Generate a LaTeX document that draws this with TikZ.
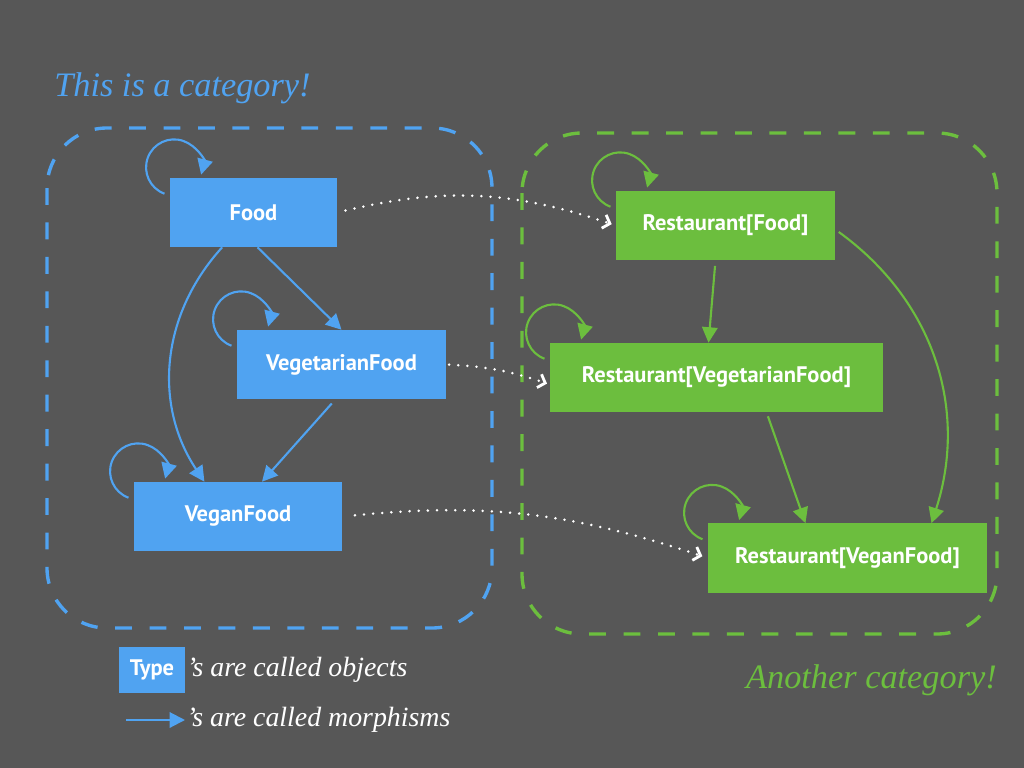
\documentclass[tikz,border=0pt]{standalone}
\usepackage{fontspec}
\setmainfont{Liberation Serif}
\newfontfamily\labelfont{PT Sans}
\usetikzlibrary{arrows.meta, positioning}
\definecolor{bgcolor}{RGB}{87,87,87}
\definecolor{typecolor}{RGB}{80,163,241}
\definecolor{restcolor}{RGB}{108,190,62}

\begin{document}
\begin{tikzpicture}[
    x=0.025cm, y=-0.025cm,
    typebox/.style={fill=typecolor, text=white, minimum height=1.725cm, inner sep=0pt, font=\labelfont\bfseries\fontsize{16}{18}\selectfont},
    restbox/.style={typebox, fill=restcolor},
    bluearrow/.style={-{Triangle[length=11pt,width=11pt]}, line width=1.5pt, color=typecolor},
    greenarrow/.style={bluearrow, color=restcolor},
    mapsto/.style={-{Straight Barb[length=4.5pt,width=10pt]}, white, line width=2pt, line cap=round, dash pattern=on 0pt off 6.5pt},
    catregion/.style={line width=2.4pt, dash pattern=on 12pt off 12.5pt, rounded corners=1.5cm},
    bigtitle/.style={font=\itshape\fontsize{24.4}{28}\selectfont, inner sep=0pt},
    legend/.style={font=\itshape\fontsize{19.8}{23}\selectfont, text=white, inner sep=1pt}
]
    % Background
    \fill[bgcolor] (0,0) rectangle (1024,768);
    \useasboundingbox (0,0) rectangle (1024,768);

    % Categories
    \draw[catregion, typecolor] (47,128) rectangle (492,628);
    \draw[catregion, restcolor] (522,133) rectangle (997,634);
    \node[bigtitle, text=typecolor, anchor=west] (catone) at (54,88) {This is a category!};
    \node[bigtitle, text=restcolor, anchor=east] (cattwo) at (997,680) {Another category!};

    % Objects
    \node[typebox, minimum width=4.175cm] (food) at (253.5,212.5) {Food};
    \node[typebox, minimum width=5.225cm] (vegfood) at (341.5,364.5) {VegetarianFood};
    \node[typebox, minimum width=5.2cm] (veganfood) at (238,516.5) {VeganFood};
    \node[restbox, minimum width=5.475cm] (rfood) at (725.5,225.5) {Restaurant[Food]};
    \node[restbox, minimum width=8.325cm] (rvegfood) at (716.5,377.5) {Restaurant[VegetarianFood]};
    \node[restbox, minimum width=6.975cm] (rveganfood) at (847.5,558) {Restaurant[VeganFood]};

    % Identity loops
    \draw[bluearrow] ([shift={(-0.13cm,-0.4cm)}]food.north west) arc[start angle=250, end angle=-15, radius=0.7cm];
    \draw[bluearrow] ([shift={(-0.13cm,-0.4cm)}]vegfood.north west) arc[start angle=250, end angle=-15, radius=0.7cm];
    \draw[bluearrow] ([shift={(-0.13cm,-0.4cm)}]veganfood.north west) arc[start angle=250, end angle=-15, radius=0.7cm];
    \draw[greenarrow] ([shift={(-0.13cm,-0.4cm)}]rfood.north west) arc[start angle=250, end angle=-15, radius=0.7cm];
    \draw[greenarrow] ([shift={(-0.13cm,-0.4cm)}]rvegfood.north west) arc[start angle=250, end angle=-15, radius=0.7cm];
    \draw[greenarrow] ([shift={(-0.13cm,-0.4cm)}]rveganfood.north west) arc[start angle=250, end angle=-15, radius=0.7cm];

    % Morphisms
    \draw[bluearrow] ([xshift=0.1cm]food.south) -- (vegfood.north);
    \draw[bluearrow, shorten <=4pt] ([xshift=-0.15cm]vegfood.south) -- ([xshift=0.6cm]veganfood.north);
    \draw[bluearrow] (food.228) to[bend right=38] (veganfood.134);
    \draw[greenarrow, shorten <=4pt] ([xshift=-0.25cm]rfood.south) -- ([xshift=-0.2cm]rvegfood.north);
    \draw[greenarrow, shorten <=3pt] ([xshift=1.25cm]rvegfood.south) -- ([xshift=-1.05cm]rveganfood.north);
    \draw[greenarrow, shorten <=3pt] ([yshift=-0.1cm]rfood.east) to[bend left=36] ([xshift=2.1cm]rveganfood.north);

    % Mapping between categories
    \draw[mapsto, shorten <=6pt, shorten >=3pt] (food.east) to[bend left=16] (rfood.west);
    \draw[mapsto, shorten <=2pt, shorten >=2pt] (vegfood.east) to[bend left=8] ([yshift=-5pt]rvegfood.west);
    \draw[mapsto, shorten <=9pt, shorten >=4pt] (veganfood.east) to[bend left=12] (rveganfood.west);

    % Legend
    \node[typebox, minimum width=1.65cm, minimum height=1.15cm] (legendtype) at (152,670) {Type};
    \node[legend, anchor=west] (objtext) at (legendtype.east) {’s are called objects};
    \coordinate (legendtail) at (126,720);
    \node[legend, anchor=west] (morphtext) at (185,720) {’s are called morphisms};
    \draw[bluearrow] (legendtail) -- (morphtext.west);
\end{tikzpicture}
\end{document}
